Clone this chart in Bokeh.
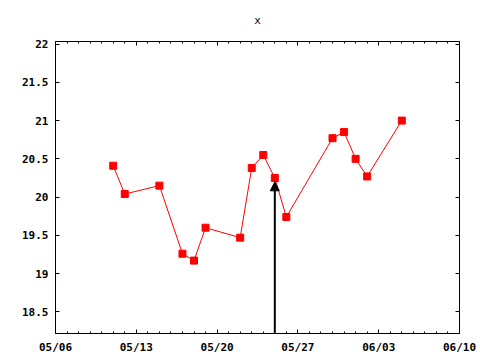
from datetime import datetime
from bokeh.plotting import figure
from bokeh.models import (FixedTicker, DatetimeTickFormatter, CustomJSTickFormatter,
                          LinearAxis, DatetimeAxis, Arrow, NormalHead, Range1d)
from bokeh.embed import file_html
from bokeh.resources import INLINE

dates = ["2009-05-11", "2009-05-12", "2009-05-15", "2009-05-17", "2009-05-18",
         "2009-05-19", "2009-05-22", "2009-05-23", "2009-05-24", "2009-05-25",
         "2009-05-26", "2009-05-30", "2009-05-31", "2009-06-01", "2009-06-02",
         "2009-06-05"]
values = [20.41, 20.04, 20.15, 19.26, 19.17, 19.60, 19.47, 20.38, 20.55, 20.25,
          19.74, 20.77, 20.85, 20.50, 20.27, 21.00]
x_major = ["2009-05-06", "2009-05-13", "2009-05-20", "2009-05-27", "2009-06-03", "2009-06-10"]
y_ticks = [18.5, 19, 19.5, 20, 20.5, 21, 21.5, 22]
arrow_date = "2009-05-25"
arrow_top = 20.2
title_text = "x"

def ms(s):
    return datetime.strptime(s, "%Y-%m-%d").timestamp() * 1000.0

xs = [datetime.strptime(d, "%Y-%m-%d") for d in dates]
major_ms = [ms(d) for d in x_major]
day = 86400000.0
minor_ms = [major_ms[0] + i * day for i in range(int((major_ms[-1] - major_ms[0]) / day) + 1)]

y0, y1 = 18.217, 22.034

p = figure(width=480, height=360, x_axis_type="datetime", output_backend="svg",
           toolbar_location=None, title=title_text,
           x_range=Range1d(major_ms[0], major_ms[-1]), y_range=Range1d(y0, y1),
           min_border_left=55, min_border_right=21, min_border_top=41, min_border_bottom=27)
p.title.align = "center"
p.title.vertical_align = "top"
p.title.text_font = "DejaVu Sans Mono"
p.title.text_font_size = "11px"
p.title.text_font_style = "normal"
p.title.text_color = "black"
p.title.standoff = 25
p.xgrid.visible = False
p.ygrid.visible = False
p.outline_line_color = "black"
p.outline_line_width = 1
p.outline_line_alpha = 1
p.background_fill_color = "white"
p.border_fill_color = "white"

xticker = FixedTicker(ticks=major_ms, minor_ticks=minor_ms)
yticker = FixedTicker(ticks=y_ticks)
yfmt = CustomJSTickFormatter(code="return String(tick);")
xfmt = DatetimeTickFormatter(days="%m/%d", months="%m/%d", hours="%m/%d")

def style(ax, labels=True):
    ax.axis_line_color = None
    ax.major_tick_in = 4
    ax.major_tick_out = 0
    ax.minor_tick_in = 2
    ax.minor_tick_out = 0
    ax.major_tick_line_color = "black"
    ax.minor_tick_line_color = "black"
    ax.major_label_text_font = "DejaVu Sans Mono"
    ax.major_label_text_font_size = "11px"
    ax.major_label_text_font_style = "bold"
    ax.major_label_text_color = "black"
    if not labels:
        ax.major_label_text_font_size = "0px"
        ax.major_label_text_color = None
        ax.major_label_standoff = 0

p.xaxis.ticker = xticker
p.xaxis.formatter = xfmt
p.yaxis.ticker = yticker
p.yaxis.formatter = yfmt
style(p.xaxis[0])
style(p.yaxis[0])
p.xaxis[0].major_label_standoff = 7
p.yaxis[0].major_label_standoff = 7
p.yaxis[0].minor_tick_line_color = None

top = DatetimeAxis(ticker=xticker, formatter=xfmt)
style(top, labels=False)
p.add_layout(top, "above")
right = LinearAxis(ticker=yticker, formatter=yfmt)
style(right, labels=False)
right.minor_tick_line_color = None
p.add_layout(right, "right")

p.line(xs, values, line_color="red", line_width=1)
p.scatter(xs, values, marker="square", size=7, fill_color="red", line_color="red")

ax_ms = ms(arrow_date)
p.add_layout(Arrow(x_start=ax_ms, y_start=y0, x_end=ax_ms, y_end=arrow_top,
                   line_color="black", line_width=2,
                   end=NormalHead(size=9, fill_color="black", line_color="black")))

open("out.html", "w").write(file_html(p, INLINE))
